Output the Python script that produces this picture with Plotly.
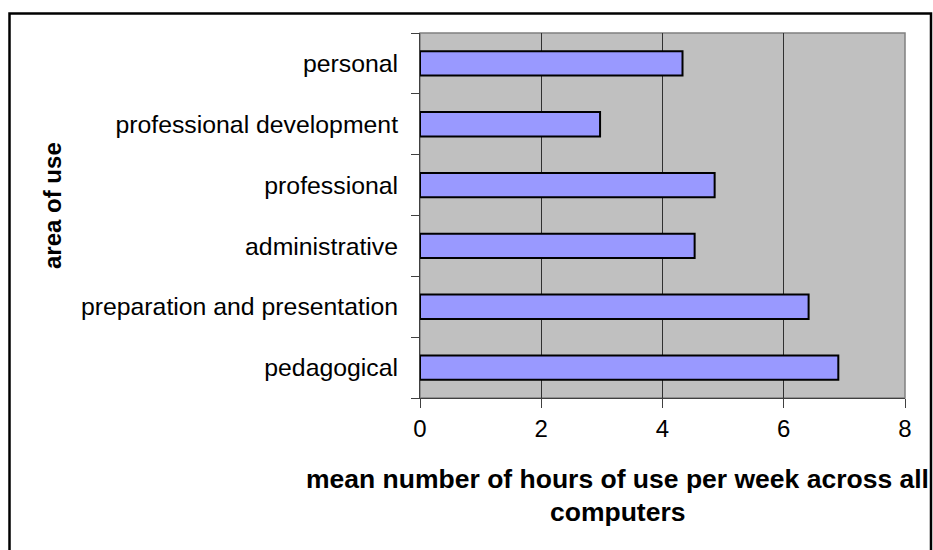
import plotly.graph_objects as go

# Areas of computer use, listed bottom to top
areas = [
    "pedagogical",
    "preparation and presentation",
    "administrative",
    "professional",
    "professional development",
    "personal",
]
mean_hours = [6.90, 6.41, 4.53, 4.86, 2.97, 4.33]
x_ticks = [0, 2, 4, 6, 8]

W, H = 933, 550
L, R, T, B = 420, 28, 33, 152
plot_w = W - L - R
plot_h = H - T - B


def px_x(px):
    return (px - L) / plot_w


def px_y(py):
    return (H - B - py) / plot_h


FONT = "Liberation Sans, Arial, sans-serif"

fig = go.Figure(
    go.Bar(
        y=areas,
        x=mean_hours,
        orientation="h",
        marker=dict(color="#9999FF", line=dict(color="#000000", width=2)),
        hoverinfo="x+y",
    )
)

fig.update_layout(
    width=W,
    height=H,
    margin=dict(l=L, r=R, t=T, b=B, pad=0),
    paper_bgcolor="#FFFFFF",
    plot_bgcolor="#C0C0C0",
    bargap=0.6,
    showlegend=False,
    font=dict(family=FONT, color="#000000", size=24),
)

fig.update_xaxes(
    range=[0, 8],
    tickvals=x_ticks,
    ticktext=[str(v) for v in x_ticks],
    showgrid=True,
    gridcolor="#303030",
    gridwidth=1,
    zeroline=False,
    showline=True,
    linecolor="#404040",
    linewidth=1,
    ticks="outside",
    ticklen=9,
    tickcolor="#404040",
    tickfont=dict(family=FONT, size=24),
    fixedrange=True,
)

fig.update_yaxes(
    type="category",
    categoryorder="array",
    categoryarray=areas,
    tickson="boundaries",
    ticks="outside",
    ticklen=8,
    tickcolor="#404040",
    showgrid=False,
    showline=True,
    linecolor="#404040",
    linewidth=1,
    ticklabelstandoff=16,
    tickfont=dict(family=FONT, size=24.8),
    fixedrange=True,
)

shapes = [
    # plot-area frame
    dict(
        type="rect", xref="paper", yref="paper", x0=0, x1=1, y0=0, y1=1,
        line=dict(color="#808080", width=1.5), fillcolor="rgba(0,0,0,0)",
        layer="below",
    ),
    # outer chart border
    dict(
        type="rect", xref="paper", yref="paper",
        x0=px_x(9.5), x1=px_x(931), y0=px_y(560), y1=px_y(13.5),
        line=dict(color="#000000", width=2.5), fillcolor="rgba(0,0,0,0)",
    ),
]

annotations = [
    dict(
        text="<b>area of use</b>", textangle=-90,
        xref="paper", yref="paper", x=px_x(52), y=px_y(206),
        xanchor="center", yanchor="middle", showarrow=False,
        font=dict(family=FONT, size=24, color="#000000"),
    ),
    dict(
        text="<b>mean number of hours of use per week across all</b>",
        xref="paper", yref="paper", x=px_x(617), y=px_y(479),
        xanchor="center", yanchor="middle", showarrow=False,
        font=dict(family=FONT, size=26.5, color="#000000"),
    ),
    dict(
        text="<b>computers</b>",
        xref="paper", yref="paper", x=px_x(617), y=px_y(512),
        xanchor="center", yanchor="middle", showarrow=False,
        font=dict(family=FONT, size=26.5, color="#000000"),
    ),
]

fig.update_layout(shapes=shapes, annotations=annotations)

fig.write_html("out.html", config={"displayModeBar": False})
